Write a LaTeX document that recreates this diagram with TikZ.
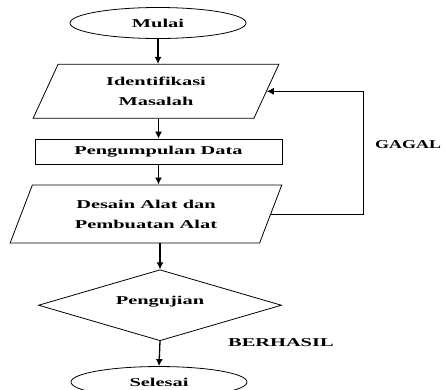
\documentclass[tikz,border=0pt]{standalone}
\usepackage{fontspec}
\setmainfont[FakeStretch=1.7]{Liberation Serif}
\usetikzlibrary{positioning,shapes.geometric,arrows.meta}

\begin{document}
\begin{tikzpicture}[x=1pt, y=-1pt,
				font=\fontsize{12}{20}\selectfont\bfseries,
				>={Latex[length=7pt,width=7pt]},
				terminal/.style={ellipse, draw=black!100, line width=0.8pt, minimum width=176pt, minimum height=31pt, inner sep=0pt},
				io/.style={trapezium, trapezium stretches=true, draw=black!100, line width=0.8pt, align=center, inner sep=0pt},
				process/.style={rectangle, draw=black!100, line width=0.8pt, minimum width=247pt, minimum height=25pt, inner sep=0pt},
				decision/.style={diamond, aspect=3.4, draw=black!100, line width=0.8pt, minimum width=243pt, minimum height=71pt, inner sep=0pt},
				note/.style={rectangle, inner sep=0pt, anchor=west}
			]
			\useasboundingbox (0,0) rectangle (446,389);
			\node[terminal] (mulai) at (158,23) {Mulai};
			\node[io, trapezium left angle=66, trapezium right angle=114, minimum width=246pt, minimum height=54pt] (identifikasi) [below=25pt of mulai, xshift=-2pt] {Identifikasi\\Masalah};
			\node[process] (pengumpulan) [below=20pt of identifikasi, xshift=2.5pt] {Pengumpulan Data};
			\node[io, trapezium left angle=64, trapezium right angle=116, minimum width=272pt, minimum height=58pt] (desain) [below=20pt of pengumpulan, xshift=-12.5pt] {Desain Alat dan\\Pembuatan Alat};
			\node[decision] (pengujian) [below=26pt of desain, xshift=14pt] {\raisebox{9pt}{Pengujian}};
			\node[terminal] (selesai) [below=25pt of pengujian, xshift=-1pt] {Selesai};
			\node[note] (gagal) at (375,145) {\scalebox{0.88}[1]{GAGAL}};
			\node[note] (berhasil) at (228,343) {BERHASIL};
			\begin{scope}[line width=1.3pt, ->]
			\draw (mulai.south) -- (mulai.south |- identifikasi.north);
			\draw (identifikasi.south -| pengumpulan.north) -- (pengumpulan.north);
			\draw (pengumpulan.south) -- (pengumpulan.south |- desain.north);
			\draw (pengujian.north |- desain.south) -- (pengujian.north);
			\draw (pengujian.south) -- (selesai.north);
			\end{scope}
			\draw[line width=0.8pt, ->] (desain.east) -- ++(92,0) |- (identifikasi.east);
			\end{tikzpicture}
\end{document}
